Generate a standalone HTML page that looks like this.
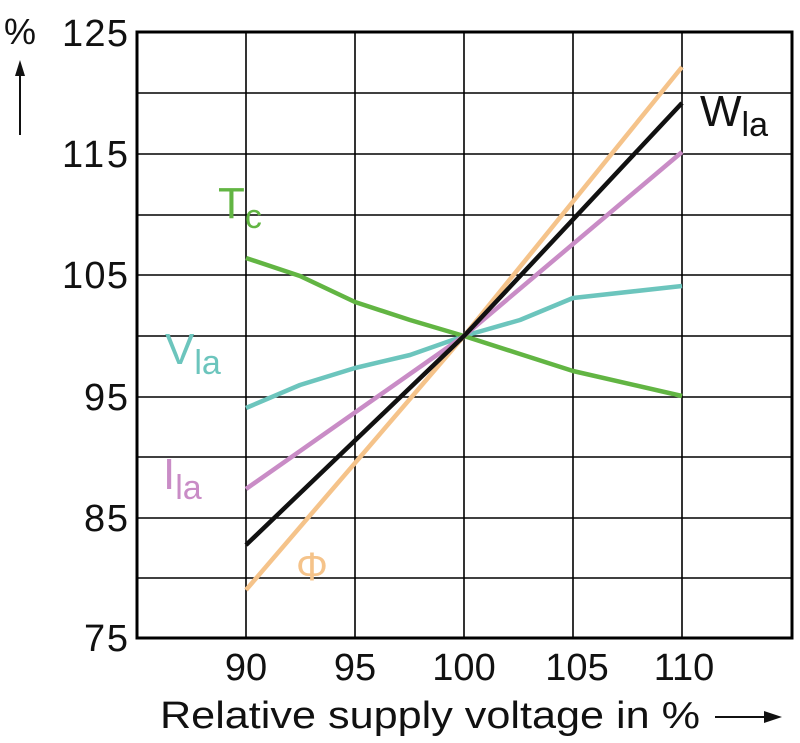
<!DOCTYPE html>
<html><head><meta charset="utf-8"><style>
html,body{margin:0;padding:0;background:#fff;}
svg{display:block;font-family:"Liberation Sans",sans-serif;}
</style></head><body>
<svg width="800" height="743" viewBox="0 0 800 743" xmlns="http://www.w3.org/2000/svg">
<rect width="800" height="743" fill="#fff"/>
<g stroke="#000" stroke-width="1.6">
<line x1="246" y1="32" x2="246" y2="638"/>
<line x1="355" y1="32" x2="355" y2="638"/>
<line x1="464" y1="32" x2="464" y2="638"/>
<line x1="573" y1="32" x2="573" y2="638"/>
<line x1="682" y1="32" x2="682" y2="638"/>
<line x1="137" y1="93" x2="792" y2="93"/>
<line x1="137" y1="154" x2="792" y2="154"/>
<line x1="137" y1="215" x2="792" y2="215"/>
<line x1="137" y1="275" x2="792" y2="275"/>
<line x1="137" y1="336" x2="792" y2="336"/>
<line x1="137" y1="397" x2="792" y2="397"/>
<line x1="137" y1="457" x2="792" y2="457"/>
<line x1="137" y1="518" x2="792" y2="518"/>
<line x1="137" y1="578" x2="792" y2="578"/>
</g>
<rect x="137" y="32" width="655" height="606" fill="none" stroke="#000" stroke-width="3"/>
<g fill="none" stroke-width="4.5" stroke-linejoin="round">
<polyline stroke="#6cc5bd" points="246,408 300,385 355,368 410,355 464,336 520,320 573,298 682,286"/>
<polyline stroke="#62b543" points="246,258 300,276 355,302 410,320 464,336 520,354 573,371 682,396"/>
<polyline stroke="#c98cc6" points="246,489 464,336 682,152"/>
<polyline stroke="#f5c38a" points="246,590 464,336 682,67"/>
<polyline stroke="#111" points="246,545 464,336 682,103"/>
</g>
<g font-size="38" text-anchor="end" fill="#111">
<text x="128" y="46" textLength="66">125</text>
<text x="128" y="167" textLength="66">115</text>
<text x="128" y="288" textLength="66">105</text>
<text x="128" y="410" textLength="44">95</text>
<text x="128" y="531" textLength="44">85</text>
<text x="128" y="651" textLength="44">75</text>
</g>
<g font-size="38" text-anchor="middle" fill="#111">
<text x="246" y="680">90</text>
<text x="355" y="680">95</text>
<text x="464" y="680">100</text>
<text x="577" y="680">105</text>
<text x="684" y="680">110</text>
</g>
<text x="160" y="728" font-size="38" fill="#111" textLength="540" lengthAdjust="spacingAndGlyphs">Relative supply voltage in %</text>
<line x1="715" y1="717" x2="770" y2="717" stroke="#111" stroke-width="2"/>
<polygon points="782,717 764,711 764,723" fill="#111"/>
<text x="4" y="44" font-size="36" fill="#111">%</text>
<line x1="20" y1="135" x2="20" y2="72" stroke="#111" stroke-width="2"/>
<polygon points="20,60 15,76 25,76" fill="#111"/>
<text x="700" y="126" font-size="44" fill="#111">W<tspan font-size="34" dy="10">la</tspan></text>
<text x="218" y="218" font-size="44" fill="#62b543">T<tspan font-size="34" dy="10">c</tspan></text>
<text x="165" y="364" font-size="44" fill="#6cc5bd">V<tspan font-size="34" dy="10">la</tspan></text>
<text x="163" y="489" font-size="44" fill="#c98cc6">I<tspan font-size="34" dy="10">la</tspan></text>
<text x="296" y="580" font-size="40" fill="#f5c38a">Φ</text>
</svg>
</body></html>
